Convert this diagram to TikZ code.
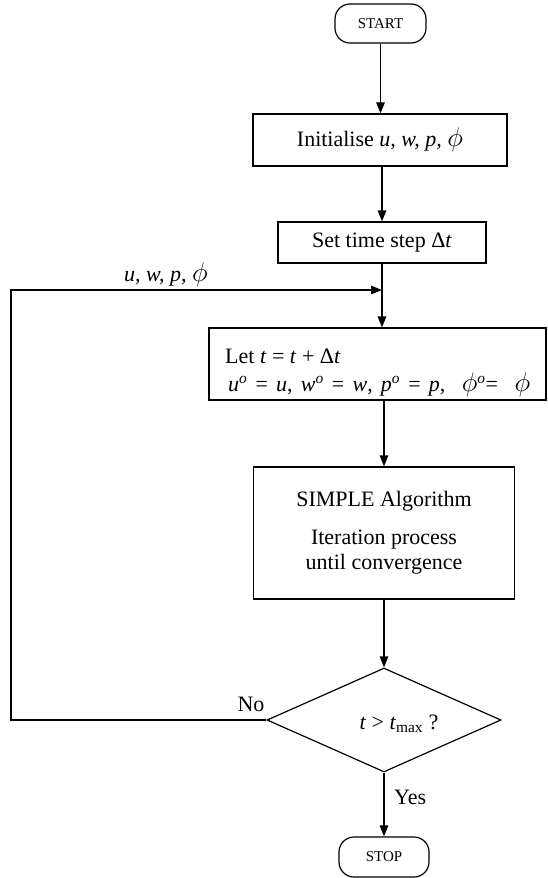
\documentclass[tikz,border=0pt]{standalone}
\usepackage{fontspec}
\setmainfont{Liberation Serif}
\usetikzlibrary{shapes.geometric,arrows.meta}
\newcommand{\bphi}{\scalebox{1.3}{$\phi$}}
\begin{document}
\begin{tikzpicture}[x=1pt,y=-1pt,
  box/.style={draw,line width=1.2pt,inner sep=0pt,font=\fontsize{22}{26}\selectfont},
  term/.style={box,rounded corners=15pt,font=\fontsize{15}{18}\selectfont},
  arr/.style={line width=1.2pt,-{Triangle[length=11pt,width=8.5pt]}},
  lbl/.style={font=\fontsize{22}{26}\selectfont,inner sep=0pt}]
\useasboundingbox (0,0) rectangle (547,878);

\node[term,minimum width=91pt,minimum height=39pt] (start) at (380.5,23.5) {START};
\node[box,minimum width=254pt,minimum height=52pt] (init) at (380,140) {Initialise \textit{u, w, p,} \bphi};
\node[box,minimum width=208pt,minimum height=41pt] (settime) at (382,242.5) {Set time step Δ\textit{t}};
\node[box,minimum width=337pt,minimum height=72pt] (let) at (377.5,364) {};
\node[lbl,anchor=base west] (letA) at (225,363) {Let \textit{t} = \textit{t} + Δ\textit{t}};
\node[lbl,anchor=base west] (letB) at (228,391) {\spaceskip=8.2pt\textit{u}\textsuperscript{\textit{o}} = \textit{u}, \textit{w}\textsuperscript{\textit{o}} = \textit{w}, \textit{p}\textsuperscript{\textit{o}} = \textit{p},\ \ \bphi\textsuperscript{\textit{o}}=\ \ \bphi};
\node[box,minimum width=261pt,minimum height=132pt,align=center] (simple) at (384,533)
  {SIMPLE Algorithm\\[12pt]Iteration process\\[-1pt]until convergence};
\node[draw,diamond,line width=1.2pt,minimum width=234pt,minimum height=104pt,inner sep=0pt] (dec) at (384,720) {};
\node[lbl] (dectext) at (399,724) {\textit{t} > \textit{t}\textsubscript{max} ?};
\node[term,minimum width=90pt,minimum height=40pt] (stop) at (384,857) {STOP};

\coordinate (tl) at (11,290);
\coordinate (junc) at (382,290);

\draw[arr] (start.south) -- (start.south |- init.north);
\draw[arr] (init.south -| settime.north) -- (settime.north);
\draw[arr] (settime.south) -- (settime.south |- let.north);
\draw[arr] (simple.north |- let.south) -- (simple.north);
\draw[arr] (simple.south) -- (dec.north);
\draw[arr] (dec.south) -- (stop.north);
\draw[arr] (dec.west) -- (dec.west -| tl) -- (tl) -- (junc);

\node[lbl,anchor=west] (yes) at (394,797) {Yes};
\node[lbl] (no) at (251,704) {No};
\node[lbl] (fbl) at (166,275) {\textit{u, w, p,} \bphi};
\end{tikzpicture}
\end{document}
